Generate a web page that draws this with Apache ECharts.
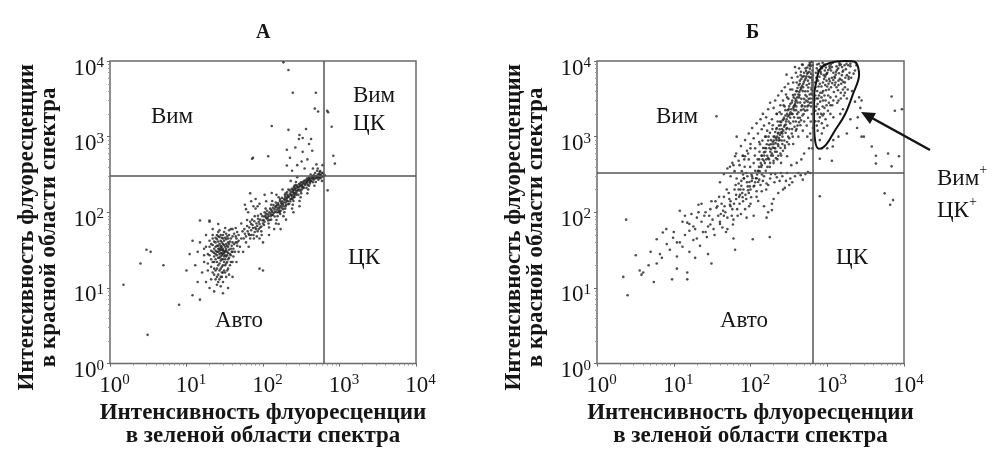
<!DOCTYPE html>
<html>
<head>
<meta charset="utf-8">
<script src="https://cdn.jsdelivr.net/npm/echarts@6/dist/echarts.min.js"></script>
<style>
  html, body { margin: 0; padding: 0; background: #fff; }
  #chart { width: 995px; height: 453px; }
</style>
</head>
<body>
<div id="chart"></div>
<script>
// decade exponents shown on both axes (10^0 ... 10^4)
const tickExps = [0, 1, 2, 3, 4];

// quadrant gates [green, red]
const gateA = [627, 300];
const gateB = [652, 337];

// panel А: [green, red] intensities
const pointsA = [
  // Авто cluster
  [25,30],[28,32],[30,28],[27,25],[32,35],[29,40],[26,20],[31,22],[34,30],[24,35],[28,18],[33,26],[30,45],[27,38],[35,40],[23,26],[26,15],[29,14],[31,17],[36,25],
  [38,33],[22,30],[25,22],[30,33],[33,38],[27,28],[29,24],[32,20],[28,50],[34,48],[24,40],[21,24],[26,12],[30,12],[28,10.5],[35,18],[40,30],[42,38],[38,45],[20,35],
  [19,28],[23,18],[22,45],[31,55],[36,58],[26,55],[33,14],[37,20],[29,35],[25,27],[27,33],[29,29],[31,31],[26,36],[33,33],[28,42],[30,38],[25,44],[32,27],[24,24],
  [27,17],[29,19],[31,26],[34,22],[28,26],[30,24],[26,30],[23,33],[35,35],[28,36],
  [21,19],[22,22],[23,29],[24,17],[24,31],[25,36],[25,14],[26,25],[26,41],[27,21],[27,47],[28,23],[28,29],[28,34],[29,27],[29,46],[30,20],[30,31],[31,37],[31,42],
  [32,24],[32,30],[33,21],[33,44],[34,27],[34,36],[35,29],[36,32],[37,41],[38,27],[39,36],[22,37],[23,41],[21,31],[24,28],[26,33],[27,31],[29,32],[31,29],[33,31],
  [35,24],[25,18],[27,13],[29,16],[24,13],[23,15],[32,16],[36,15],[40,22],[41,26],[44,40],[46,55],[40,48],[38,60],[48,42],[52,45],
  [19,21],[20,27],[21,38],[22,16],[22,50],[23,22],[24,46],[25,11],[26,48],[27,58],[28,14],[30,16],[32,46],[33,52],[34,17],[35,45],[36,38],[37,28],[38,22],
  [39,30],[40,40],[41,33],[43,30],[44,48],[46,36],[18,35],[17,27],[20,42],[19,17],[21,13],[25,50],[30,50],[36,50],[40,60],[32,62],
  [15,40],[14,30],[17,22],[12,42],[16,16],[18,12],[14,12],[20,10],[23,9],[30,8.5],[35,10],[40,14],[45,22],[48,30],[18,50],[22,60],[17,33],[13,20],[11,28],[26,70],
  [20,75],[42,52],[45,45],
  [1.5,11],[3.1,2.4],[3.0,32],[2.5,21],[5,20],[8,6],[3.4,30],[10,17],[12,8],[15,7],[15,78],[20,78],[90,18],[100,17],
  // diagonal band
  [50,35],[48,50],[52,71],[46,40],[54,56],[44,62],
  [60,40],[63,56],[66,63],[62,79],[68,45],[64,100],[58,52],[70,70],
  [75,50],[79,63],[82,71],[78,89],[85,56],[76,45],[80,112],[88,75],[72,80],
  [95,56],[100,71],[102,79],[98,89],[105,100],[92,63],[108,112],[96,50],[110,85],[103,68],
  [118,71],[122,79],[126,89],[130,100],[124,112],[128,126],[120,63],[132,141],[135,92],[115,95],
  [150,79],[155,89],[158,100],[162,112],[152,126],[166,141],[160,158],[148,71],[170,105],[145,118],[175,130],[168,95],
  [190,100],[195,112],[200,126],[205,141],[210,158],[198,178],[215,200],[185,89],[220,130],[192,145],
  [240,112],[245,126],[250,141],[255,158],[262,178],[248,200],[258,224],[270,251],[235,150],[275,190],
  [300,141],[310,158],[316,178],[322,200],[305,224],[330,251],[290,170],[340,210],
  [380,178],[390,200],[400,224],[410,251],[395,282],[420,316],[370,240],[430,260],
  [470,224],[490,251],[505,282],[520,316],[510,355],[480,300],[540,290],[460,270],
  [560,282],[570,316],[600,330],[550,340],[590,260],
  [105,75],[112,82],[118,90],[125,95],[132,105],[138,98],[142,110],[148,120],[155,115],[160,125],[165,118],[172,135],[178,140],[182,128],[188,150],[195,160],
  [202,155],[208,170],[214,165],[225,175],[232,185],[238,170],[244,195],[252,180],[260,205],[268,210],[278,225],[285,215],[295,235],[305,240],[315,250],
  [325,230],[345,260],[360,265],[375,280],[388,270],[405,290],[440,300],
  [95,65],[88,60],[84,66],[92,80],[108,90],[116,85],[128,80],[135,115],[142,88],[150,100],[165,100],[175,115],[185,120],[198,135],[212,140],[228,150],
  [240,160],[255,170],[272,170],[290,195],[310,190],[335,215],[355,230],[370,210],[385,230],[410,240],[450,250],
  [70,50],[73,68],[77,76],[81,60],[86,82],[90,70],[94,95],[99,78],[104,88],[109,96],[113,105],[117,78],[121,100],[127,108],[131,92],[137,125],[143,102],
  [147,135],[153,108],[157,132],[163,105],[167,150],[173,122],[177,155],[183,110],[187,135],[193,170],[197,120],[203,148],[207,185],[213,128],[218,160],
  [223,195],[227,140],[233,168],[237,205],[243,150],[247,185],[253,215],[257,160],[263,195],[267,230],[273,180],[283,200],[293,215],[303,200],[313,225],
  [323,215],[333,240],[348,240],[362,250],[378,260],[398,265],[415,275],[435,285],[455,295],[475,280],[495,295],
  [60,48],[65,52],[70,58],[74,62],[78,55],[83,48],[86,90],[68,75],[57,60],[62,66],[56,45],[66,50],
  [60,110],[70,140],[80,150],[55,30],[65,35],[90,45],[100,40],[120,50],[140,60],[110,140],[90,130],[160,70],[200,80],[250,100],[300,120],[180,200],[150,170],
  [230,260],[280,290],[130,180],[105,170],[170,60],[85,120],[75,120],
  [450,280],[500,300],[520,290],[540,320],[480,330],[420,260],[560,310],[600,330],[380,250],[460,310],[610,300],[580,290],[530,270],[640,310],
  // upper part
  [185,9600],[215,7600],[245,3800],[490,3800],[475,2350],[525,2150],[130,1380],[215,1230],[300,1050],[295,930],[330,960],[425,930],[365,1260],[205,670],
  [225,525],[330,630],[117,550],[74,525],[320,470],[450,380],[240,355],[205,415],[500,430],[710,2100],[690,2200],[790,1350],[830,560],[870,440],[700,195],
  [72,510],[68,178],[58,126],[265,720],[400,800],[440,650],[380,500],[280,420],[350,380],[560,350],[520,380],[600,420]
];

// panel Б: [green, red] intensities
const pointsB = [
  // lower-left tail
  [2.2,14],[2.5,8],[2.4,80],[3.2,27],[3.6,17],[3.8,15],[4.7,20],[6,21],[6,44],[6.6,28],[7.2,54],[8.1,38],[8.9,32],[9.5,13],[9.8,46],[11,26],[12,105],[15,73],
  [15,16],[15,13],[16,57],[18,43],[20,85],[22,36],[21,126],[27,47],[28,28],[31,21],[30,69],[36,115],[43,63],[44,105],[54,126],[63,32],[59,69],[73,170],[89,85],
  [93,195],[85,550],[107,44],[126,141],[132,347],[162,240],[178,47],[162,85],[190,107],
  [5,30],[7,25],[8,60],[10,55],[12,40],[13,75],[14,50],[17,95],[18,65],[20,45],[24,55],[25,90],[26,100],[28,65],[32,80],[34,50],[35,140],[38,90],[40,75],
  [42,130],[45,160],[47,100],[50,85],[52,180],[55,140],[58,110],[62,200],[65,150],[68,90],[70,240],[72,130],[78,180],[82,280],[88,150],[92,220],[96,120],
  [105,300],[115,250],[120,190],[125,350],[4,16],[5.5,12],[11,18],[16,30],[19,25],[23,130],[30,110],[48,55],[60,45],
  [11,40],[13,35],[14,90],[16,70],[19,60],[21,100],[23,75],[26,55],[29,90],[31,140],[33,60],[37,120],[39,160],[41,95],[46,120],[49,200],[53,150],[57,90],
  [61,130],[64,230],[67,110],[71,160],[76,260],[81,200],[86,170],[91,300],[98,220],[104,260],
  [40,250],[45,320],[50,380],[55,300],[58,450],[62,350],[66,280],[72,420],[77,350],[83,500],[88,330],[93,600],
  // below red gate
  [65,170],[70,200],[80,140],[90,250],[95,180],[110,220],[120,160],[130,270],[140,190],[150,300],[170,230],[180,280],[200,150],[210,320],[240,260],[260,300],
  [280,210],[300,330],[330,280],[350,250],[380,300],[420,330],[450,310],[480,270],[520,320],[560,340],[600,330],[150,120],[170,100],[190,130],[230,180],
  [110,90],[100,130],[85,110],[75,95],[60,80],[55,120],[45,90],[40,70],[50,60],[135,230],[160,200],[185,320],[220,290],[250,330],[290,260],[320,230],
  [145,260],[205,250],[265,200],
  // main cluster
  [79,158],[76,224],[82,282],[74,200],[80,316],[84,400],
  [100,200],[97,251],[103,316],[99,398],[106,282],[95,500],[102,158],
  [112,224],[115,355],[110,447],[114,562],[118,282],
  [126,251],[122,316],[129,398],[124,501],[131,631],[127,355],[120,282],[133,794],
  [141,316],[138,398],[144,501],[140,562],[146,708],[136,447],[143,891],
  [158,355],[154,447],[161,501],[156,631],[163,794],[151,562],[159,1000],[166,398],[153,708],
  [178,398],[174,501],[181,631],[176,708],[184,794],[172,1000],[179,1122],[186,562],[170,891],
  [200,447],[196,562],[204,708],[198,794],[206,1000],[193,1259],[209,631],[201,891],[195,1413],
  [224,501],[220,631],[228,794],[222,1000],[231,1122],[217,1259],[226,1585],[233,891],[219,1995],
  [251,562],[246,708],[255,891],[249,1122],[258,1259],[243,1585],[253,1995],[261,1000],[247,1413],
  [282,708],[276,891],[287,1122],[280,1413],[290,1585],[273,1778],[285,2239],[278,2512],[293,1259],
  [316,794],[310,1000],[321,1259],[314,1585],[326,1995],[306,2239],[319,2512],[312,3162],[329,1778],
  [355,1000],[349,1259],[361,1585],[352,1995],[366,2512],[345,2818],[358,3548],[370,2239],
  [398,1259],[390,1585],[405,1995],[395,2512],[411,2818],[386,3162],[402,3981],[415,1778],[393,2239],
  [447,1413],[440,1778],[455,2239],[444,2818],[460,3162],[435,3548],[451,4467],[465,2512],[438,5012],
  [501,1585],[492,1995],[510,2512],[498,3162],[516,3981],[486,5012],[505,2818],[520,3548],[495,6310],
  [562,1778],[552,2512],[572,3162],[558,3981],[580,5012],[548,2239],[566,4467],
  [631,1995],[620,2818],[642,3548],[626,4467],[636,5623],[615,2512],[648,3162],[610,1585],
  [210,700],[240,900],[260,1100],[300,1300],[330,1500],[370,1800],[420,2100],[470,2600],[530,3000],[590,3600],[620,4200],[260,800],[230,750],[190,600],
  [170,520],[150,480],[140,420],[380,2700],[430,3300],[480,4000],[540,4800],[600,6000],[560,7000],[640,7500],[600,9000],[520,8000],[450,6500],[400,5200],
  [350,4200],[300,3300],[270,2600],[240,2100],[480,1200],[420,1000],[360,800],[540,1400],[600,1100],[620,900],[580,700],[500,600],[460,500],[400,450],
  [340,420],[300,550],[250,450],[650,1300],[640,700],[550,1000],
  [165,560],[185,680],[195,720],[212,820],[218,900],[235,960],[242,1050],[256,1150],[268,1200],[275,1350],[288,1450],[296,1700],[305,1850],[318,1900],
  [332,2100],[340,2300],[348,2000],[362,2400],[375,2600],[385,2900],[396,3000],[408,3300],[420,3600],[432,3900],[445,4100],[458,4300],[470,4700],[485,4500],
  [497,5300],[512,5600],[525,5900],[535,6300],[548,6800],[560,5500],[575,6200],[585,7200],[595,7900],[605,8500],[615,6800],[625,6100],[632,5200],[640,4800],
  [645,4000],[620,3700],[605,3200],[590,2800],[570,2600],[555,2900],[540,3400],[515,2200],[490,2300],[475,1900],[455,1650],[430,1550],[410,1400],[390,1200],
  [375,1350],[345,1100],[320,950],[300,850],[280,760],[265,650],[245,600],[230,560],[215,520],[200,480],[180,450],
  [270,1700],[285,1900],[300,2000],[315,2300],[330,2700],[350,3000],[365,3300],[380,3600],[395,4000],[410,4400],[425,4800],[440,5500],[460,5800],[475,6200],
  [500,7000],[530,7400],[550,8200],[575,8800],[590,9500],[625,9700],[645,8800],[650,6500],
  [200,1000],[210,1150],[220,1300],[235,1400],[250,1550],[262,1650],[240,1250],[228,1100],[215,950],[195,850],[185,900],[175,780],[160,700],[150,620],
  [140,560],[130,500],
  // left flank of the main cluster
  [60,420],[65,600],[70,480],[75,750],[80,560],[85,900],[90,650],[95,1100],[100,800],[105,1300],[110,950],[115,700],[120,1500],[125,1100],[130,850],
  [135,1700],[140,1250],[145,2000],[150,1400],[155,1000],[160,1800],[165,1200],[170,2300],[175,1500],[180,2800],[190,1700],[200,2400],[210,3000],[220,2000],
  [230,3500],[245,2600],[255,4000],[265,3000],[280,4500],[290,3600],[310,5000],[330,4200],[345,6000],[360,5200],[390,7000],[410,6200],[430,8000],[455,7200],
  [470,9000],
  // inside the double-positive gate
  [680,3000],[700,4500],[720,6000],[750,2000],[760,7500],[780,3500],[800,5000],[820,8500],[850,1500],[870,2500],[880,4000],[900,6500],[920,9000],[950,3000],
  [980,5500],[1000,7000],[1020,2200],[1050,4200],[1080,8000],[1100,3300],[1150,6000],[1180,9500],[1200,1800],[1250,4800],[1300,7200],[1350,2800],[1400,5500],
  [1450,8800],[1500,3800],[1550,6500],[1600,2300],[1700,4500],[1750,7800],[1800,3200],[1900,5800],[2000,8500],[2100,4000],[2200,6800],[750,1200],[800,900],
  [850,1100],[700,1600],[720,2500],[760,3200],[690,5200],[730,8000],[780,9200],[830,6800],[860,3800],[900,2000],[940,4800],[960,8200],[1000,1400],[1030,3500],
  [1060,5800],[1120,7500],[1160,2600],[1220,3900],[1280,5200],[1320,8500],[1380,4100],[1420,6900],[1480,2000],[1520,5000],[1580,7200],[1650,3500],[1720,6000],
  [1850,4200],[1950,7000],[2300,7500],[2400,8800],[900,1300],[950,1700],[1100,2000],
  [700,3500],[740,4000],[770,4600],[810,3800],[840,4600],[880,5200],[910,5800],[940,6200],[990,6800],[1030,7600],[1070,8500],[1110,9000],[1150,8300],
  [1200,7000],[1240,6200],[1290,6600],[1340,7600],[1390,8000],[1440,9300],[1500,9000],[1560,8300],[1620,7500],[1680,8800],[1780,9200],[1880,8800],[2000,9200],
  [710,7000],[740,9000],[760,5500],[790,6200],[820,7200],[850,8000],[870,9500],[900,8800],[930,7500],[960,6600],[700,2200],[720,3200],[750,2700],[780,2300],
  [810,2900],[840,3300],[880,3000],[920,3500],[960,4100],[1000,4600],[1040,5000],[1080,5400],[1120,4500],[1160,5100],[1200,5600],[1260,6000],[1320,4500],
  [1400,4800],[1460,5800],[1540,5600],[1620,5300],[1700,5200],[1800,6500],[1900,6200],[2050,6000],[730,1400],[770,1600],[800,1800],[830,2000],[870,1900],
  [920,2400],[980,2600],[1050,2800],[1100,2600],[1200,3000],[1300,3400],[1400,3000],[1500,3200],[1600,4200],[1700,3800],
  [2600,3300],[2700,2400],[2500,1800],[2300,2900],[2800,3000],[2450,1300],[2000,1700],[1800,1100],[1400,1000],[1200,900],[1000,700],[850,700],[3000,1000],
  // scattered outliers
  [6900,3400],[7600,2200],[9400,2300],[3800,740],[4300,560],[4300,440],[6200,600],[6900,405],[8600,550],[5600,178],[7200,145],[6600,126],[800,163],[1150,480],
  [800,510],[1180,740],[2800,1000],[36,1860],[66,1000],[63,550],[79,560],[295,6600],[380,8300],[480,8900],[54,400],[100,700]
];

// outline of the Вим+ЦК+ region in panel Б
const regionB = [
  [673,3600],[673,1700],[690,930],[780,690],[960,780],[1250,1190],[1700,1960],[2150,3600],[2600,6600],[2300,9700],[1700,10000],[1080,9400],[800,7700],
  [720,5300],[673,3600]
];

const font = "'Liberation Serif', 'DejaVu Serif', serif";
const ink = '#151515';
const frame = '#6a6a6a';

const tickLabel = {
  formatter: v => '{b|10}{s|' + tickExps[Math.round(Math.log10(v))] + '}',
  rich: {
    b: { fontFamily: font, fontSize: 23, color: ink },
    s: { fontFamily: font, fontSize: 15, color: ink, verticalAlign: 'top', padding: [0, 0, 11, 0] }
  }
};

function logX(grid) {
  return {
    type: 'log', logBase: 10, min: 1, max: 10000, gridIndex: grid,
    name: 'Интенсивность флуоресценции\nв зеленой области спектра',
    nameLocation: 'middle', nameGap: 36,
    nameTextStyle: { fontFamily: font, fontSize: 23, fontWeight: 'bold', color: ink, lineHeight: 23 },
    axisLine: { show: false },
    axisTick: { show: true, length: 3, lineStyle: { color: frame } },
    minorTick: { show: true, splitNumber: 9, length: 2, lineStyle: { color: '#999' } },
    splitLine: { show: false },
    axisLabel: Object.assign({ margin: 9, padding: [0, 0, 0, 9] }, tickLabel)
  };
}

function logY(grid) {
  return {
    type: 'log', logBase: 10, min: 1, max: 10000, gridIndex: grid,
    name: 'Интенсивность флуоресценции\nв красной области спектра',
    nameLocation: 'middle', nameGap: 50, nameRotate: 90,
    nameTextStyle: { fontFamily: font, fontSize: 23, fontWeight: 'bold', color: ink, lineHeight: 22, padding: [0, 30, 0, 0] },
    axisLine: { show: false },
    axisTick: { show: true, length: 3, lineStyle: { color: frame } },
    minorTick: { show: true, splitNumber: 9, length: 2, lineStyle: { color: '#999' } },
    splitLine: { show: false },
    axisLabel: Object.assign({ margin: 6, padding: [15, 0, 0, 0] }, tickLabel)
  };
}

function gateLines(g) {
  return {
    silent: true, symbol: 'none', animation: false,
    label: { show: false },
    lineStyle: { color: '#555', width: 1.5, type: 'solid' },
    data: [{ xAxis: g[0] }, { yAxis: g[1] }]
  };
}

function label(text, x, y) {
  return {
    type: 'text', x: x, y: y,
    style: { text: text, font: "23px " + font, fill: ink, textAlign: 'center', textVerticalAlign: 'middle' }
  };
}

const chart = echarts.init(document.getElementById('chart'));
chart.setOption({
  animation: false,
  backgroundColor: '#fff',
  title: [
    { text: 'А', left: 251, top: 18, textStyle: { fontFamily: font, fontSize: 20, fontWeight: 'bold', color: ink } },
    { text: 'Б', left: 741, top: 18, textStyle: { fontFamily: font, fontSize: 20, fontWeight: 'bold', color: ink } }
  ],
  grid: [
    { left: 110, top: 61, width: 306, height: 307, show: true, borderColor: frame, borderWidth: 1.5, backgroundColor: 'transparent' },
    { left: 597, top: 61, width: 307, height: 307, show: true, borderColor: frame, borderWidth: 1.5, backgroundColor: 'transparent' }
  ],
  xAxis: [logX(0), logX(1)],
  yAxis: [logY(0), logY(1)],
  series: [
    {
      type: 'scatter', xAxisIndex: 0, yAxisIndex: 0, data: pointsA,
      symbolSize: 2.6, itemStyle: { color: '#222' }, markLine: gateLines(gateA)
    },
    {
      type: 'scatter', xAxisIndex: 1, yAxisIndex: 1, data: pointsB,
      symbolSize: 2.6, itemStyle: { color: '#222' }, markLine: gateLines(gateB)
    },
    {
      type: 'line', xAxisIndex: 1, yAxisIndex: 1, data: regionB, smooth: 0.35,
      symbol: 'none', lineStyle: { color: '#111', width: 2 }, silent: true
    }
  ],
  graphic: [
    label('Вим', 172, 117),
    label('Вим', 374, 96),
    label('ЦК', 369, 124),
    label('ЦК', 364, 258),
    label('Авто', 239, 321),
    label('Вим', 677, 117),
    label('ЦК', 852, 258),
    label('Авто', 744, 321),
    {
      type: 'text', left: 937, top: 163,
      style: {
        text: '{b|Вим}{s|+}\n{b|ЦК}{s|+}',
        rich: {
          b: { font: "23px " + font, fill: ink, lineHeight: 32 },
          s: { font: "14px " + font, fill: ink, verticalAlign: 'top', padding: [0, 0, 12, 0] }
        }
      }
    },
    { type: 'line', shape: { x1: 930, y1: 150, x2: 872, y2: 118 }, style: { stroke: ink, lineWidth: 2.5 } },
    { type: 'polygon', shape: { points: [[861, 112], [876, 113], [870, 124]] }, style: { fill: ink } }
  ]
});
</script>
</body>
</html>
